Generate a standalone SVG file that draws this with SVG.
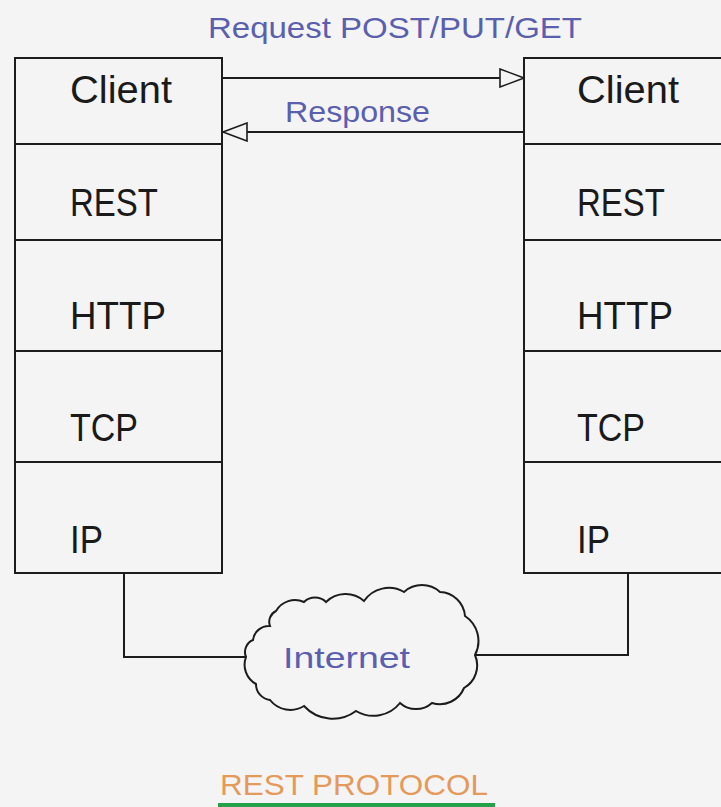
<svg xmlns="http://www.w3.org/2000/svg" width="721" height="807" viewBox="0 0 721 807">
  <style>
    .box { fill: none; stroke: #1c1c1c; stroke-width: 2; }
    .wire { fill: none; stroke: #1c1c1c; stroke-width: 2; }
    .layer { font-family: "Liberation Sans", Arial, sans-serif; font-size: 39px; fill: #1a1a1a; }
    .note { font-family: "Liberation Sans", Arial, sans-serif; font-size: 29px; fill: #5a5fae; }
    .title { font-family: "Liberation Sans", Arial, sans-serif; font-size: 30px; fill: #e49a5a; }
  </style>
  <defs>
    <marker id="hollow" viewBox="0 0 26 20" refX="25" refY="10" markerWidth="26" markerHeight="20" markerUnits="userSpaceOnUse" orient="auto">
      <path d="M1,1 L25,10 L1,19 Z" fill="#f4f4f4" stroke="#1c1c1c" stroke-width="1.6"/>
    </marker>
  </defs>

  <rect width="721" height="807" fill="#f4f4f4"/>

  <!-- left protocol stack -->
  <g id="stack-left">
    <rect class="box" x="15" y="58" width="207" height="515"/>
    <line class="box" x1="15" y1="144" x2="222" y2="144"/>
    <line class="box" x1="15" y1="240" x2="222" y2="240"/>
    <line class="box" x1="15" y1="351" x2="222" y2="351"/>
    <line class="box" x1="15" y1="462" x2="222" y2="462"/>
    <text class="layer" x="70" y="103" textLength="102" lengthAdjust="spacingAndGlyphs">Client</text>
    <text class="layer" x="70" y="216" textLength="88" lengthAdjust="spacingAndGlyphs">REST</text>
    <text class="layer" x="70" y="329" textLength="96" lengthAdjust="spacingAndGlyphs">HTTP</text>
    <text class="layer" x="70" y="441" textLength="68" lengthAdjust="spacingAndGlyphs">TCP</text>
    <text class="layer" x="70" y="553" textLength="33" lengthAdjust="spacingAndGlyphs">IP</text>
  </g>

  <!-- right protocol stack -->
  <g id="stack-right">
    <rect class="box" x="524" y="58" width="220" height="515"/>
    <line class="box" x1="524" y1="144" x2="744" y2="144"/>
    <line class="box" x1="524" y1="240" x2="744" y2="240"/>
    <line class="box" x1="524" y1="351" x2="744" y2="351"/>
    <line class="box" x1="524" y1="462" x2="744" y2="462"/>
    <text class="layer" x="577" y="103" textLength="102" lengthAdjust="spacingAndGlyphs">Client</text>
    <text class="layer" x="577" y="216" textLength="88" lengthAdjust="spacingAndGlyphs">REST</text>
    <text class="layer" x="577" y="329" textLength="96" lengthAdjust="spacingAndGlyphs">HTTP</text>
    <text class="layer" x="577" y="441" textLength="68" lengthAdjust="spacingAndGlyphs">TCP</text>
    <text class="layer" x="577" y="553" textLength="33" lengthAdjust="spacingAndGlyphs">IP</text>
  </g>

  <!-- internet cloud -->
  <g id="internet">
    <path class="wire" fill="#f4f4f4" d="M246,657
      A13,13 0 0 1 253,640
      A16,16 0 0 1 270,626
      A12,12 0 0 1 276,611
      A22,22 0 0 1 304,602
      A16,16 0 0 1 326,602
      A28,28 0 0 1 364,601
      A30,30 0 0 1 404,592
      A27,27 0 0 1 440,592
      A26,26 0 0 1 465,616
      A30,30 0 0 1 475,655
      A26,26 0 0 1 464,688
      A26,26 0 0 1 432,703
      A24,24 0 0 1 400,703
      A34,34 0 0 1 356,711
      A39,39 0 0 1 304,706
      A26,26 0 0 1 270,700
      A16,16 0 0 1 256,684
      A22,22 0 0 1 246,657 Z"/>
    <text class="note" x="283" y="668" font-size="31" textLength="127" lengthAdjust="spacingAndGlyphs">Internet</text>
  </g>

  <!-- connectors -->
  <g id="connectors">
    <line class="wire" x1="222" y1="78" x2="524" y2="78" marker-end="url(#hollow)"/>
    <line class="wire" x1="524" y1="132" x2="223" y2="132" marker-end="url(#hollow)"/>
    <polyline class="wire" points="124,573 124,657 246,657"/>
    <polyline class="wire" points="628,573 628,655 475,655"/>
  </g>

  <!-- labels -->
  <text class="note" x="208" y="38" textLength="374" lengthAdjust="spacingAndGlyphs">Request POST/PUT/GET</text>
  <text class="note" x="285" y="122" textLength="145" lengthAdjust="spacingAndGlyphs">Response</text>

  <g id="caption">
    <text class="title" x="220" y="795" textLength="268" lengthAdjust="spacingAndGlyphs">REST PROTOCOL</text>
    <rect x="218" y="803" width="277" height="4" fill="#22a04a"/>
  </g>
</svg>
